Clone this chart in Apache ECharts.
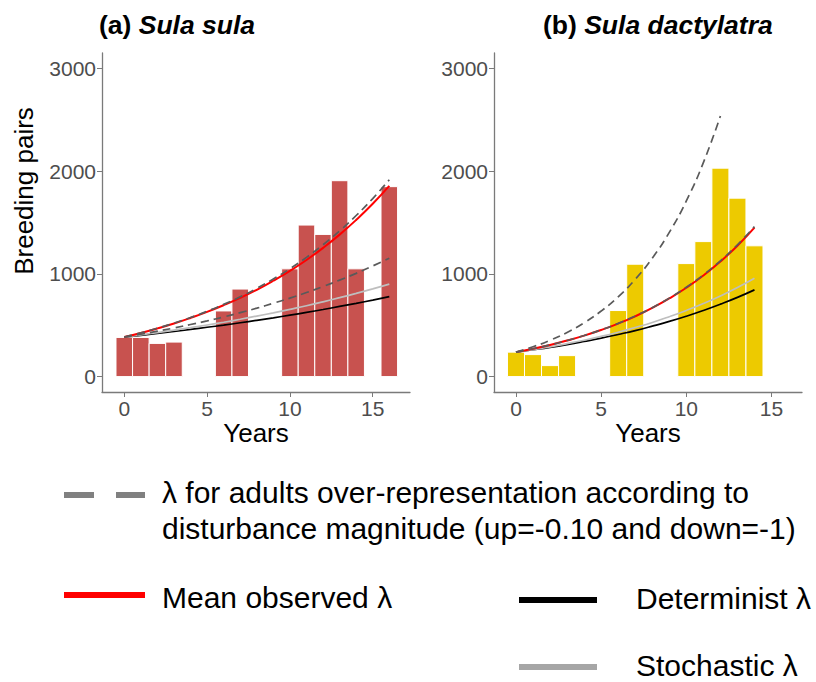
<!DOCTYPE html>
<html>
<head>
<meta charset="utf-8">
<script src="https://cdn.jsdelivr.net/npm/echarts@6/dist/echarts.min.js"></script>
<style>
  html, body { margin: 0; padding: 0; background: #fff; }
  #chart { width: 816px; height: 682px; }
</style>
</head>
<body>
<div id="chart"></div>
<script>
// Breeding pairs per year (bars) and projected growth curves for two booby species

// (a) Sula sula
const barYearsA = [0, 1, 2, 3, 6, 7, 10, 11, 12, 13, 14, 16];
const barPairsA = [381, 381, 323, 336, 639, 852, 1049, 1475, 1384, 1907, 1049, 1849];
const curveYearsA = [0, 1, 2, 3, 4, 5, 6, 7, 8, 9, 10, 11, 12, 13, 14, 15, 16];
const meanObsA   = [385, 425, 469, 517, 571, 630, 695, 766, 845, 933, 1029, 1135, 1253, 1382, 1525, 1682, 1856];
const adultsUpA  = [385, 426, 471, 520, 575, 636, 703, 777, 859, 950, 1050, 1160, 1283, 1418, 1568, 1733, 1916];
const adultsDnA  = [385, 412, 442, 473, 507, 542, 581, 622, 666, 714, 764, 818, 877, 939, 1005, 1077, 1153];
const stochA     = [385, 406, 428, 452, 476, 502, 529, 558, 589, 621, 655, 690, 728, 768, 810, 854, 900];
const determA    = [385, 402, 420, 439, 459, 480, 501, 524, 548, 572, 598, 625, 653, 683, 713, 745, 779];

// (b) Sula dactylatra
const barYearsB = [0, 1, 2, 3, 6, 7, 10, 11, 12, 13, 14];
const barPairsB = [238, 214, 107, 204, 643, 1094, 1100, 1314, 2029, 1737, 1273];
const curveYearsB = [0, 1, 2, 3, 4, 5, 6, 7, 8, 9, 10, 11, 12, 13, 14];
const meanObsB   = [238, 271, 308, 351, 399, 454, 516, 587, 668, 761, 865, 984, 1120, 1274, 1450];
const adultsUpB  = [238, 290, 353, 430, 524, 638, 777, 947, 1153, 1404, 1710, 2083, 2537];
const adultsDnB  = [238, 271, 308, 351, 400, 455, 518, 590, 671, 764, 870, 990, 1127, 1283, 1460];
const stochB     = [238, 263, 290, 321, 354, 391, 432, 478, 527, 583, 644, 711, 785, 867, 958];
const determB    = [238, 261, 285, 312, 342, 374, 410, 448, 491, 537, 588, 644, 705, 771, 844];

const xTicks = [0, 5, 10, 15];
const yTicks = [0, 1000, 2000, 3000];

const FONT = '"Liberation Sans", Arial, sans-serif';
const AXIS_GREY = '#7a7a7a';
const TICK_TEXT = '#4D4D4D';

function pairs(xs, ys) {
  return ys.map((v, i) => [xs[i], v]);
}

function barSeries(xs, ys, color, idx) {
  return {
    type: 'custom',
    xAxisIndex: idx, yAxisIndex: idx,
    data: pairs(xs, ys),
    encode: { x: 0, y: 1 },
    z: 1,
    renderItem: function (params, api) {
      const yr = api.value(0), v = api.value(1);
      const p1 = api.coord([yr - 0.5, v]);
      const p2 = api.coord([yr + 0.5, 0]);
      return {
        type: 'rect',
        shape: { x: p1[0], y: p1[1], width: p2[0] - p1[0], height: p2[1] - p1[1] },
        style: { fill: color, stroke: '#ffffff', lineWidth: 1 }
      };
    }
  };
}

function lineSeries(xs, ys, color, width, dashed, idx, z) {
  return {
    type: 'line',
    xAxisIndex: idx, yAxisIndex: idx,
    data: pairs(xs, ys),
    smooth: true,
    showSymbol: false,
    symbol: 'none',
    z: z,
    lineStyle: { color: color, width: width, type: dashed ? [8, 5] : 'solid' }
  };
}

function xAxisFor(idx, min, max) {
  return {
    type: 'value', gridIndex: idx, min: min, max: max,
    splitLine: { show: false },
    axisLine: { show: true, onZero: false, lineStyle: { color: AXIS_GREY, width: 1.3 } },
    axisTick: { show: true, length: 5, customValues: xTicks, lineStyle: { color: AXIS_GREY } },
    axisLabel: { customValues: xTicks, color: TICK_TEXT, fontSize: 21, fontFamily: FONT, margin: 6 },
    name: 'Years', nameLocation: 'middle', nameGap: 22,
    nameTextStyle: { color: '#000', fontSize: 26, fontFamily: FONT }
  };
}

function yAxisFor(idx) {
  return {
    type: 'value', gridIndex: idx, min: -150, max: 3150,
    splitLine: { show: false },
    axisLine: { show: true, onZero: false, lineStyle: { color: AXIS_GREY, width: 1.3 } },
    axisTick: { show: true, length: 5, customValues: yTicks, lineStyle: { color: AXIS_GREY } },
    axisLabel: {
      customValues: yTicks, color: TICK_TEXT, fontSize: 21, fontFamily: FONT, margin: 6,
      formatter: function (v) { return String(v); }
    }
  };
}

function legendLine(x1, x2, y, color) {
  return { type: 'line', shape: { x1: x1, y1: y, x2: x2, y2: y }, style: { stroke: color, lineWidth: 6 } };
}
function legendText(x, y, text) {
  return {
    type: 'text', x: x, y: y,
    style: { text: text, fill: '#000', fontSize: 30, fontFamily: FONT, verticalAlign: 'middle', align: 'left' }
  };
}
function titleText(x, y, tag, species) {
  return {
    type: 'text', x: x, y: y,
    style: {
      text: '{n|' + tag + ' }{i|' + species + '}',
      verticalAlign: 'middle', align: 'left',
      rich: {
        n: { fontSize: 26.5, fontWeight: 'bold', fontFamily: FONT, fill: '#000', color: '#000' },
        i: { fontSize: 26.5, fontWeight: 'bold', fontStyle: 'italic', fontFamily: FONT, fill: '#000', color: '#000' }
      }
    }
  };
}

const chart = echarts.init(document.getElementById('chart'), null, { renderer: 'svg' });

chart.setOption({
  animation: false,
  backgroundColor: '#ffffff',
  grid: [
    { left: 102, top: 53, width: 308, height: 339 },
    { left: 494, top: 53, width: 308, height: 339 }
  ],
  xAxis: [xAxisFor(0, -1.345, 17.25), xAxisFor(1, -1.29, 16.79)],
  yAxis: [yAxisFor(0), yAxisFor(1)],
  series: [
    barSeries(barYearsA, barPairsA, '#C8524F', 0),
    lineSeries(curveYearsA, determA, '#000000', 1.7, false, 0, 3),
    lineSeries(curveYearsA, stochA, '#BEBEBE', 1.7, false, 0, 3),
    lineSeries(curveYearsA, meanObsA, '#FF0000', 2, false, 0, 4),
    lineSeries(curveYearsA, adultsUpA, '#5A5A5A', 1.7, true, 0, 5),
    lineSeries(curveYearsA, adultsDnA, '#5A5A5A', 1.7, true, 0, 5),

    barSeries(barYearsB, barPairsB, '#EDCA00', 1),
    lineSeries(curveYearsB, determB, '#000000', 1.7, false, 1, 3),
    lineSeries(curveYearsB, stochB, '#BEBEBE', 1.7, false, 1, 3),
    lineSeries(curveYearsB, meanObsB, '#FF0000', 2, false, 1, 4),
    lineSeries(curveYearsB.slice(0, adultsUpB.length), adultsUpB, '#5A5A5A', 1.7, true, 1, 5),
    lineSeries(curveYearsB, adultsDnB, '#5A5A5A', 1.7, true, 1, 5)
  ],
  graphic: [
    titleText(99, 25, '(a)', 'Sula sula'),
    titleText(543, 25, '(b)', 'Sula dactylatra'),

    // y-axis title, rotated
    {
      type: 'text', x: 24, y: 191, rotation: Math.PI / 2,
      style: { text: 'Breeding pairs', fill: '#000', fontSize: 26, fontFamily: FONT, align: 'center', verticalAlign: 'middle' }
    },

    legendLine(64, 94, 495, '#808080'),
    legendLine(116, 145, 495, '#808080'),
    legendText(162, 492, 'λ for adults over-representation according to'),
    legendText(162, 528, 'disturbance magnitude (up=-0.10 and down=-1)'),

    legendLine(64, 145, 595, '#FF0000'),
    legendText(162, 597, 'Mean observed λ'),

    legendLine(519, 597, 600, '#000000'),
    legendText(636, 598, 'Determinist λ'),

    legendLine(519, 597, 667, '#A6A6A6'),
    legendText(636, 665, 'Stochastic λ')
  ]
});
</script>
</body>
</html>
